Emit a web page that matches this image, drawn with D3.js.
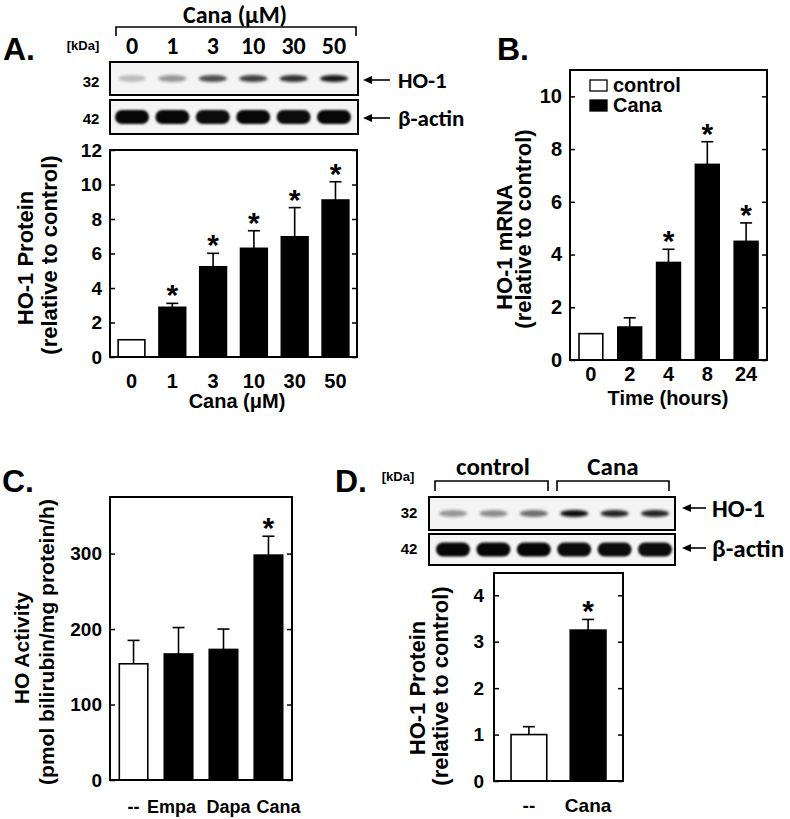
<!DOCTYPE html>
<html><head><meta charset="utf-8">
<script src="https://cdn.jsdelivr.net/npm/d3@7"></script>
<style>body{margin:0;background:#fff} svg{display:block}</style>
</head><body>
<script>
// ---------------- DATA ----------------
// Panel A: HO-1 protein vs Cana dose
const aDoses = ["0", "1", "3", "10", "30", "50"];
const aGroups = ["control", "treated", "treated", "treated", "treated", "treated"];
const aProtein = [1.0, 2.88, 5.23, 6.30, 6.97, 9.10];
const aProteinErr = [0, 0.23, 0.78, 1.02, 1.69, 1.06];
const aSig = [false, true, true, true, true, true];
const aYTicks = [0, 2, 4, 6, 8, 10, 12];
const aHO1Bands = [0.22, 0.38, 0.68, 0.74, 0.80, 0.90];
const aActinBands = [0.97, 0.97, 0.95, 0.97, 0.95, 0.97];

// Panel B: HO-1 mRNA vs time
const bTimes = ["0", "2", "4", "8", "24"];
const bGroups = ["control", "treated", "treated", "treated", "treated"];
const bMRNA = [1.0, 1.25, 3.70, 7.42, 4.50];
const bMRNAErr = [0, 0.35, 0.50, 0.86, 0.70];
const bSig = [false, false, true, true, true];
const bYTicks = [0, 2, 4, 6, 8, 10];
const bLegend = ["control", "Cana"];

// Panel C: HO activity
const cDrugs = ["--", "Empa", "Dapa", "Cana"];
const cGroups = ["control", "treated", "treated", "treated"];
const cActivity = [154, 167, 173, 298];
const cActivityErr = [31, 35, 27, 25];
const cSig = [false, false, false, true];
const cYTicks = [0, 100, 200, 300];

// Panel D: HO-1 protein, control vs Cana
const dDrugs = ["--", "Cana"];
const dGroups = ["control", "treated"];
const dProtein = [1.0, 3.25];
const dProteinErr = [0.17, 0.23];
const dSig = [false, true];
const dYTicks = [0, 1, 2, 3, 4];
const dLanes = ["c1", "c2", "c3", "k1", "k2", "k3"];
const dHO1Bands = [0.38, 0.42, 0.55, 0.95, 0.85, 0.85];
const dActinBands = [0.97, 0.97, 0.97, 0.95, 0.95, 0.95];

// ---------------- DRAW ----------------
const SANS = "'Liberation Sans', Arial, sans-serif";
const CAL = "Carlito, Lato, sans-serif";

const svg = d3.select("body").append("svg").attr("width", 790).attr("height", 819);
const defs = svg.append("defs");
defs.append("filter").attr("id", "blurHO").attr("x", "-50%").attr("y", "-200%").attr("width", "200%").attr("height", "500%")
  .append("feGaussianBlur").attr("stdDeviation", 1.7);
defs.append("filter").attr("id", "blurAct").attr("x", "-50%").attr("y", "-100%").attr("width", "200%").attr("height", "300%")
  .append("feGaussianBlur").attr("stdDeviation", 1.1);

const fillColor = d3.scaleOrdinal().domain(["control", "treated"]).range(["#ffffff", "#000000"]);

function txt(g, s, x, y, opt) {
  return g.append("text").attr("x", x).attr("y", y).text(s)
    .attr("font-family", opt.ff || SANS).attr("font-size", opt.fs || 20)
    .attr("font-weight", opt.fw || "bold").attr("text-anchor", opt.anchor || "start")
    .attr("fill", "#000");
}
function vtxt(g, s, x, cy, fs, ff) {
  return g.append("text").attr("transform", `translate(${x},${cy}) rotate(-90)`).text(s)
    .attr("font-family", ff || SANS).attr("font-size", fs).attr("font-weight", "bold")
    .attr("text-anchor", "middle");
}

function barPanel(p) {
  const g = svg.append("g");
  const x = d3.scaleBand().domain(p.cats).range([p.left, p.right]).paddingInner(p.pi).paddingOuter(p.po);
  const y = d3.scaleLinear().domain([0, p.ymax]).range([p.bottom, p.top]);
  const rows = p.cats.map((c, i) => ({ c, i, v: p.vals[i], e: p.errs[i], grp: p.groups[i], sig: p.sig[i] }));

  g.selectAll("rect.bar").data(rows).join("rect").attr("class", "bar")
    .attr("x", d => x(d.c)).attr("y", d => y(d.v))
    .attr("width", x.bandwidth()).attr("height", d => y(0) - y(d.v))
    .attr("fill", d => fillColor(d.grp)).attr("stroke", "#000").attr("stroke-width", 1.6);

  const eb = rows.filter(d => d.e > 0);
  g.selectAll("line.err").data(eb).join("line")
    .attr("x1", d => x(d.c) + x.bandwidth() / 2).attr("x2", d => x(d.c) + x.bandwidth() / 2)
    .attr("y1", d => y(d.v)).attr("y2", d => y(d.v + d.e))
    .attr("stroke", "#000").attr("stroke-width", 1.6);
  g.selectAll("line.cap").data(eb).join("line")
    .attr("x1", d => x(d.c) + x.bandwidth() / 2 - 6).attr("x2", d => x(d.c) + x.bandwidth() / 2 + 6)
    .attr("y1", d => y(d.v + d.e)).attr("y2", d => y(d.v + d.e))
    .attr("stroke", "#000").attr("stroke-width", 1.6);

  g.selectAll("text.star").data(rows.filter(d => d.sig)).join("text")
    .attr("x", d => x(d.c) + x.bandwidth() / 2).attr("y", d => y(d.v + d.e) + 2)
    .attr("text-anchor", "middle").attr("font-family", SANS).attr("font-weight", "bold")
    .attr("font-size", 30).text("*");

  g.append("rect").attr("x", p.left).attr("y", p.top).attr("width", p.right - p.left)
    .attr("height", p.bottom - p.top).attr("fill", "none").attr("stroke", "#000").attr("stroke-width", 2);

  const la = g.append("g").attr("transform", `translate(${p.left},0)`)
    .call(d3.axisLeft(y).tickValues(p.ticks).tickSize(-5).tickPadding(p.tickPad).tickFormat(d3.format("d")));
  la.select(".domain").remove();
  la.attr("font-family", SANS).attr("font-size", p.tickFs).attr("font-weight", "bold");
  la.selectAll("line").attr("stroke-width", 1.5);
  la.selectAll("text").attr("fill", "#000");
  const ra = g.append("g").attr("transform", `translate(${p.right},0)`)
    .call(d3.axisRight(y).tickValues(p.ticks).tickSize(-5).tickFormat(""));
  ra.select(".domain").remove();
  ra.selectAll("line").attr("stroke-width", 1.5);

  const dx = p.xLabelDx || p.cats.map(() => 0);
  g.selectAll("text.xl").data(rows).join("text")
    .attr("x", d => x(d.c) + x.bandwidth() / 2 + dx[d.i]).attr("y", p.xLabelY)
    .attr("text-anchor", "middle").attr("font-family", SANS).attr("font-weight", "bold")
    .attr("font-size", p.xFs).text(d => d.c);
  return { g, x, y };
}

function arrow(g, x1, x2, y) {
  g.append("line").attr("x1", x1).attr("x2", x2 + 6).attr("y1", y).attr("y2", y).attr("stroke", "#000").attr("stroke-width", 1.6);
  g.append("path").attr("d", `M${x2},${y} L${x2 + 9},${y - 4} L${x2 + 9},${y + 4} Z`).attr("fill", "#000");
}

function blot(g, lanes, scale, box, bands, kind) {
  g.append("rect").attr("x", box[0]).attr("y", box[1]).attr("width", box[2] - box[0]).attr("height", box[3] - box[1])
    .attr("fill", "#f4f4f4").attr("stroke", "#000").attr("stroke-width", 2);
  const cy = (box[1] + box[3]) / 2;
  const data = lanes.map((l, i) => ({ l, v: bands[i] }));
  if (kind === "ho") {
    g.selectAll(null).data(data).join("ellipse")
      .attr("cx", d => scale(d.l)).attr("cy", cy).attr("rx", 14).attr("ry", 3.6)
      .attr("fill", "#000").attr("opacity", d => d.v).attr("filter", "url(#blurHO)");
  } else {
    g.selectAll(null).data(data).join("rect")
      .attr("x", d => scale(d.l) - 17).attr("y", cy - 7).attr("width", 34).attr("height", 14).attr("rx", 7)
      .attr("fill", "#000").attr("opacity", d => d.v).attr("filter", "url(#blurAct)");
  }
}

// ===== Panel A =====
const gA = svg.append("g");
txt(gA, "A.", 3, 60, { fs: 32 });
txt(gA, "Cana (\u03BCM)", 235, 23, { ff: CAL, fs: 24, anchor: "middle" });
gA.append("path").attr("d", "M116,36 V27 H356 V36").attr("fill", "none").attr("stroke", "#000").attr("stroke-width", 1.6);
txt(gA, "[kDa]", 83, 50, { fs: 13, anchor: "middle" });
const aLane = d3.scalePoint().domain(aDoses).range([132, 334]);
gA.selectAll(null).data(aDoses).join("text").attr("x", d => aLane(d)).attr("y", 54)
  .attr("text-anchor", "middle").attr("font-family", CAL).attr("font-weight", "bold").attr("font-size", 24).text(d => d);
blot(gA, aDoses, aLane, [110, 62, 358, 95], aHO1Bands, "ho");
blot(gA, aDoses, aLane, [110, 100, 358, 134], aActinBands, "act");
txt(gA, "32", 91, 87, { fs: 15, anchor: "middle" });
txt(gA, "42", 91, 124, { fs: 15, anchor: "middle" });
arrow(gA, 390, 363, 80);
arrow(gA, 390, 363, 118);
txt(gA, "HO-1", 398, 88, { ff: CAL, fs: 23 });
txt(gA, "\u03B2-actin", 398, 126, { ff: CAL, fs: 23 });

barPanel({ cats: aDoses, vals: aProtein, errs: aProteinErr, groups: aGroups, sig: aSig, ticks: aYTicks,
  left: 110, right: 357, top: 150, bottom: 357, ymax: 12, pi: 0.345, po: 0.2,
  tickPad: 8, tickFs: 19, xLabelY: 388, xFs: 20 });
txt(gA, "Cana (\u03BCM)", 237, 408, { fs: 20, anchor: "middle" });
vtxt(gA, "HO-1 Protein", 33, 258, 22);
vtxt(gA, "(relative to control)", 57, 255, 22);

// ===== Panel B =====
const gB = svg.append("g");
txt(gB, "B.", 497, 60, { fs: 32 });
barPanel({ cats: bTimes, vals: bMRNA, errs: bMRNAErr, groups: bGroups, sig: bSig, ticks: bYTicks,
  left: 570, right: 767, top: 70, bottom: 360, ymax: 11, pi: 0.387, po: 0.232,
  tickPad: 8, tickFs: 20, xLabelY: 381, xFs: 20 });
txt(gB, "Time (hours)", 668, 405, { fs: 20, anchor: "middle" });
vtxt(gB, "HO-1 mRNA", 512, 247, 22);
vtxt(gB, "(relative to control)", 531, 229, 22);
const leg = gB.selectAll("g.leg").data(bLegend).join("g").attr("transform", (d, i) => `translate(590,${80 + i * 20})`);
leg.append("rect").attr("width", 17).attr("height", 11).attr("fill", (d, i) => fillColor(i === 0 ? "control" : "treated"))
  .attr("stroke", "#000").attr("stroke-width", 1.3);
leg.append("text").attr("x", 23).attr("y", 12).attr("font-family", SANS).attr("font-weight", "bold")
  .attr("font-size", 20).text(d => d);

// ===== Panel C =====
const gC = svg.append("g");
txt(gC, "C.", 2, 492, { fs: 32 });
barPanel({ cats: cDrugs, vals: cActivity, errs: cActivityErr, groups: cGroups, sig: cSig, ticks: cYTicks,
  left: 110, right: 292, top: 497, bottom: 780, ymax: 375, pi: 0.367, po: 0.207,
  tickPad: 8, tickFs: 19, xLabelY: 813, xFs: 18, xLabelDx: [0, -7, 5, 10] });
vtxt(gC, "HO Activity", 29, 648, 21);
vtxt(gC, "(pmol bilirubin/mg protein/h)", 54, 642, 21);

// ===== Panel D =====
const gD = svg.append("g");
txt(gD, "D.", 335, 492, { fs: 32 });
txt(gD, "[kDa]", 398, 481, { fs: 13, anchor: "middle" });
txt(gD, "control", 493, 475, { ff: CAL, fs: 25, anchor: "middle" });
txt(gD, "Cana", 613, 475, { ff: CAL, fs: 25, anchor: "middle" });
gD.append("path").attr("d", "M435,491 V481 H548 V491").attr("fill", "none").attr("stroke", "#000").attr("stroke-width", 1.6);
gD.append("path").attr("d", "M557,491 V481 H669 V491").attr("fill", "none").attr("stroke", "#000").attr("stroke-width", 1.6);
const dLane = d3.scalePoint().domain(dLanes).range([453, 655]);
blot(gD, dLanes, dLane, [429, 497, 675, 530], dHO1Bands, "ho");
blot(gD, dLanes, dLane, [429, 534, 675, 565], dActinBands, "act");
txt(gD, "32", 409, 518, { fs: 15, anchor: "middle" });
txt(gD, "42", 409, 554, { fs: 15, anchor: "middle" });
arrow(gD, 706, 682, 508);
arrow(gD, 706, 682, 548);
txt(gD, "HO-1", 712, 517, { ff: CAL, fs: 25 });
txt(gD, "\u03B2-actin", 712, 557, { ff: CAL, fs: 25 });
barPanel({ cats: dDrugs, vals: dProtein, errs: dProteinErr, groups: dGroups, sig: dSig, ticks: dYTicks,
  left: 494, right: 623, top: 573, bottom: 781, ymax: 4.48, pi: 0.397, po: 0.288,
  tickPad: 10, tickFs: 19, xLabelY: 812, xFs: 19 });
vtxt(gD, "HO-1 Protein", 425, 688, 22);
vtxt(gD, "(relative to control)", 448, 686, 22);
</script>
</body></html>
